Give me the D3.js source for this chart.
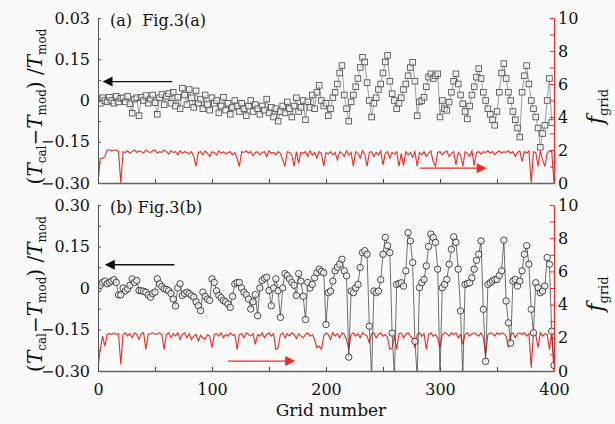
<!DOCTYPE html>
<html><head><meta charset="utf-8">
<script src="https://cdn.jsdelivr.net/npm/d3@7"></script>
<style>body{margin:0;background:#fafafa}svg{display:block}</style>
</head><body><svg id="c" width="615" height="424"></svg>
<script>
// ---- data (x = index * gridStep) ----
const gridStep = 2;
const xTicks = [0, 50, 100, 150, 200, 250, 300, 350, 400];
const xTickLabels = ["0", "", "100", "", "200", "", "300", "", "400"];
const leftTicks = [-0.3, -0.225, -0.15, -0.075, 0, 0.075, 0.15, 0.225, 0.3];
const leftLabelsA = ["−0.30", "", "−0.15", "", "0", "", "0.15", "", "0.03"];
const leftLabelsB = ["−0.30", "", "−0.15", "", "0", "", "0.15", "", "0.30"];
const rightTicks = [0,1,2,3,4,5,6,7,8,9,10];
const rightLabels = ["0","","2","","4","","6","","8","","10"];

const squaresA = [
 0.005,-0.01,0.01,0.0,-0.005,0.012,0.0,-0.01,0.015,-0.005,
 0.008,0.01,-0.005,0.015,-0.012,-0.046,0.005,0.01,-0.055,0.012,
 0.0,0.018,-0.01,0.005,0.02,-0.008,-0.05,0.01,0.022,-0.015,
 0.015,0.025,-0.01,0.03,-0.02,0.012,-0.03,0.045,0.02,-0.015,
 0.04,0.01,-0.025,0.035,-0.01,0.005,-0.03,0.02,-0.015,-0.035,
 0.01,-0.01,0.0,-0.045,-0.02,0.012,-0.035,-0.01,-0.05,-0.025,
 0.0,-0.02,-0.04,-0.01,-0.03,-0.055,-0.02,0.0,-0.04,-0.015,
 -0.03,-0.05,-0.02,-0.035,0.005,-0.045,-0.025,-0.06,-0.03,-0.075,
 -0.04,-0.02,-0.045,-0.005,-0.03,-0.06,-0.02,0.01,-0.04,-0.025,
 0.0,-0.07,-0.005,-0.025,0.02,-0.03,0.03,0.055,0.0,-0.02,
 -0.01,-0.055,-0.03,0.01,0.03,0.06,0.1,0.127,0.02,-0.03,
 -0.075,-0.005,0.02,0.05,0.08,0.12,0.157,0.14,0.065,0.0,
 -0.06,-0.01,0.01,0.04,0.06,0.1,0.14,0.164,0.07,0.025,
 0.0,-0.03,-0.01,0.01,0.04,0.06,0.09,0.12,0.139,0.07,
 -0.055,-0.005,0.0,0.012,0.05,0.085,0.097,0.08,0.09,0.097,
 -0.06,0.0,-0.03,-0.036,-0.006,0.03,0.07,0.097,0.06,0.02,
 -0.012,-0.04,-0.067,-0.02,0.02,0.05,0.085,0.116,0.08,0.03,
 0.0,-0.03,-0.05,-0.07,-0.09,-0.04,0.03,0.1,0.134,0.08,
 0.03,0.0,-0.04,-0.07,-0.1,-0.133,0.03,0.09,0.127,0.06,
 0.0,-0.03,-0.06,-0.1,-0.17,-0.12,-0.09,0.0,0.08,-0.08
];
const fgridA = [
 0,1.5,1.5,1.6,2.0,2.0,1.95,2.0,2.0,1.9,
 0,1.9,1.85,1.95,1.8,1.9,2.0,1.85,1.95,1.9,
 1.8,2.0,1.9,1.85,1.95,2.0,1.8,1.9,1.85,2.0,
 1.9,1.75,1.95,1.85,1.9,1.7,1.95,1.8,1.9,1.85,
 1.75,1.9,1.6,1.0,1.85,1.9,1.7,1.95,1.8,1.6,
 1.9,1.85,1.7,1.95,1.8,1.9,1.75,1.85,1.9,1.7,
 1.85,1.5,1.0,1.9,1.85,1.95,1.8,1.9,1.65,1.85,
 1.9,1.7,1.85,1.9,1.6,1.95,1.8,1.85,1.7,1.9,
 1.8,1.4,1.0,1.9,1.85,1.7,1.0,1.9,1.2,1.85,
 1.8,1.9,1.6,1.95,1.7,1.85,1.5,1.9,1.8,1.0,
 1.85,1.75,1.9,1.7,1.85,1.4,1.9,1.8,1.6,1.95,
 1.7,1.85,1.0,1.9,1.8,1.5,1.95,1.75,1.0,1.85,
 1.9,1.6,1.85,1.7,1.95,1.1,1.8,1.9,1.5,1.85,
 1.75,1.9,1.0,1.8,1.05,1.9,1.7,1.85,1.55,1.9,
 1.0,1.85,1.7,1.9,1.6,1.8,1.95,1.3,1.0,1.85,
 1.9,1.7,1.85,1.95,1.6,1.8,1.9,1.1,1.85,1.7,
 1.0,1.9,1.8,1.6,1.95,1.05,1.85,1.9,1.75,1.9,
 1.85,1.95,1.8,1.9,1.7,1.85,1.95,1.8,1.9,1.85,
 1.95,1.8,1.9,1.6,1.85,1.95,1.3,1.9,1.8,1.95,
 0,1.9,1.85,1.0,1.95,1.4,1.0,1.8,1.95,1.9,
 0
];
const circlesB = [
 -0.004,0.01,0.02,0.025,0.015,0.02,0.025,0.03,0.02,-0.025,
 -0.025,0.0,-0.01,-0.003,0.01,0.033,0.02,0.027,-0.009,-0.01,
 -0.012,-0.015,-0.025,-0.033,-0.02,-0.015,0.033,0.015,0.005,-0.003,
 -0.005,-0.01,-0.02,-0.04,-0.065,0.0,0.015,-0.027,-0.02,-0.015,
 -0.02,-0.027,-0.033,-0.05,-0.064,-0.082,-0.015,-0.03,-0.04,-0.045,
 0.033,0.02,-0.01,-0.027,-0.035,-0.045,-0.05,-0.058,-0.07,-0.03,
 0.015,0.02,0.02,0.0,-0.015,-0.024,-0.04,-0.076,-0.05,-0.024,
 -0.1,0.0,0.027,0.035,0.039,-0.009,-0.064,0.0,0.033,-0.01,
 -0.106,0.0,0.052,0.045,0.033,0.02,0.01,-0.027,0.052,0.025,
 -0.03,-0.114,0.02,0.0,0.013,0.037,0.055,0.068,0.06,0.055,
 -0.132,-0.017,-0.011,0.025,0.062,0.075,0.086,0.104,0.062,0.044,
 -0.25,-0.011,-0.017,0.0,0.013,0.074,0.128,0.135,0.122,-0.138,
 -0.32,-0.011,-0.017,-0.011,0.03,0.122,0.183,0.153,0.128,-0.163,
 -0.32,0.013,0.016,0.019,0.007,0.062,0.2,0.17,0.092,-0.193,
 -0.32,0.001,0.019,0.031,0.08,0.15,0.195,0.183,0.165,0.068,
 -0.32,0.001,0.013,0.031,0.086,0.14,0.185,0.165,0.068,-0.083,
 -0.32,0.013,0.016,0.019,0.037,0.068,0.1,0.122,0.17,-0.077,
 -0.265,0.013,0.019,0.025,0.031,0.031,0.045,0.062,0.173,-0.047,
 -0.126,-0.199,0.025,0.031,0.007,0.025,0.062,0.122,0.153,0.086,
 -0.077,-0.162,0.019,0.001,-0.017,-0.011,0.007,0.11,0.086,-0.156,
 -0.28
];
const fgridB = [
 0.2,1.3,2.1,1.5,2.2,2.25,2.2,2.3,2.2,2.25,
 0.4,2.2,2.3,2.1,2.25,2.0,2.3,2.2,1.9,2.25,
 2.3,1.3,2.2,2.25,2.3,2.2,2.25,2.3,2.2,1.3,
 2.2,2.3,2.0,2.25,2.1,2.3,1.9,2.2,2.3,2.0,
 2.25,1.9,2.1,2.2,1.8,2.15,2.0,1.9,2.2,2.1,
 1.4,2.2,2.25,2.1,2.3,2.0,2.2,2.1,2.3,2.15,
 2.2,1.3,2.2,2.25,2.0,2.3,2.2,2.1,2.25,1.6,
 2.2,2.1,2.3,2.0,2.2,2.3,2.1,2.25,1.3,1.4,
 2.2,2.3,2.0,2.25,2.1,2.3,2.2,1.95,2.25,2.1,
 2.0,2.2,2.3,2.1,2.2,1.9,1.4,1.5,1.3,2.1,
 2.3,2.2,1.9,2.3,2.1,2.25,2.0,2.3,2.2,1.9,
 1.3,2.2,2.3,2.1,2.25,2.0,2.3,2.2,2.1,1.7,
 2.25,2.3,2.0,2.2,2.3,2.1,2.2,2.0,1.3,1.4,
 2.1,1.3,2.25,2.3,2.0,2.2,2.3,2.1,1.95,1.4,
 2.2,2.3,2.1,2.25,1.3,2.2,2.3,2.1,2.2,2.0,
 1.4,2.2,2.3,2.25,2.1,2.3,2.2,2.3,2.0,2.2,
 1.6,2.2,2.3,2.1,2.25,2.3,2.2,2.1,2.3,2.0,
 1.0,2.2,2.3,2.25,2.1,2.3,2.2,2.3,2.25,2.1,
 1.4,2.2,2.3,2.0,2.25,2.3,2.2,2.3,2.1,2.25,
 0.2,2.3,2.2,1.4,2.3,2.1,2.25,2.2,1.3,2.3,
 0
];

// ---- drawing ----
const svg = d3.select("#c");
svg.append("rect").attr("width",615).attr("height",424).attr("fill","#fafafa");
const FONT = "'DejaVu Serif', 'Liberation Serif', serif";
const RED = "#ee2b24";
const x = d3.scaleLinear().domain([0,400]).range([98,554]);

const panels = [
  {id:"a", top:18, bot:183, vals:squaresA, fg:fgridA, labels:leftLabelsA, marker:"square",
   title:"(a)  Fig.3(a)", xLabels:false, black:[65,4,0.069], red:[282,341,0.9]},
  {id:"b", top:205, bot:371, vals:circlesB, fg:fgridB, labels:leftLabelsB, marker:"circle",
   title:"(b) Fig.3(b)", xLabels:true, black:[67,6,0.084], red:[114,173,0.6]}
];

const defs = svg.append("defs");

panels.forEach(p => {
  const yL = d3.scaleLinear().domain([-0.3,0.3]).range([p.bot,p.top]);
  const yR = d3.scaleLinear().domain([0,10]).range([p.bot,p.top]);
  const g = svg.append("g");
  defs.append("clipPath").attr("id","clip"+p.id).append("rect")
    .attr("x",98).attr("y",p.top-6).attr("width",456).attr("height",p.bot-p.top+6);
  const plot = g.append("g").attr("clip-path","url(#clip"+p.id+")");

  // red f_grid line
  plot.append("path").datum(p.fg)
    .attr("d", d3.line().x((d,i)=>x(i*gridStep)).y(d=>yR(d)))
    .attr("fill","none").attr("stroke",RED).attr("stroke-width",1.1);

  // connecting line
  plot.append("path").datum(p.vals)
    .attr("d", d3.line().x((d,i)=>x(i*gridStep)).y(d=>yL(d)))
    .attr("fill","none").attr("stroke", p.marker==="square" ? "#777" : "#333").attr("stroke-width",0.7);

  // markers
  if (p.marker === "square") {
    plot.selectAll("rect.m").data(p.vals).join("rect").attr("class","m")
      .attr("x",(d,i)=>x(i*gridStep)-2.8).attr("y",d=>yL(d)-2.8)
      .attr("width",5.6).attr("height",5.6)
      .attr("fill","#fafafa").attr("fill-opacity",0.6).attr("stroke","#555").attr("stroke-width",0.9);
  } else {
    plot.selectAll("circle.m").data(p.vals).join("circle").attr("class","m")
      .attr("cx",(d,i)=>x(i*gridStep)).attr("cy",d=>yL(d)).attr("r",3.2)
      .attr("fill","#fafafa").attr("fill-opacity",0.7).attr("stroke","#333").attr("stroke-width",0.9);
  }

  // left axis
  const la = g.append("g").attr("transform","translate(98,0)")
    .call(d3.axisLeft(yL).tickValues(leftTicks).tickSizeInner(-3).tickSizeOuter(0).tickPadding(8)
      .tickFormat((d,i)=>p.labels[i]));
  la.select(".domain").attr("stroke","#555");
  la.selectAll(".tick line").attr("stroke","#555");
  la.selectAll("text").attr("font-family",FONT).attr("font-size",16).attr("fill","#111");

  // bottom axis
  const ba = g.append("g").attr("transform",`translate(0,${p.bot})`)
    .call(d3.axisBottom(x).tickValues(xTicks).tickSizeInner(-4).tickSizeOuter(0).tickPadding(13)
      .tickFormat((d,i)=> p.xLabels ? xTickLabels[i] : ""));
  ba.select(".domain").attr("stroke","#666").attr("stroke-width",1.5);
  ba.selectAll(".tick line").attr("stroke","#444");
  ba.selectAll("text").attr("font-family",FONT).attr("font-size",16).attr("fill","#111");

  // right axis
  const ra = g.append("g").attr("transform","translate(554,0)")
    .call(d3.axisRight(yR).tickValues(rightTicks).tickSizeInner(-4).tickSizeOuter(0).tickPadding(4)
      .tickFormat((d,i)=>rightLabels[i]));
  ra.select(".domain").attr("stroke",RED).attr("stroke-width",1.2);
  ra.selectAll(".tick line").attr("stroke",RED);
  ra.selectAll("text").attr("font-family",FONT).attr("font-size",16).attr("fill","#111");

  // panel title
  g.append("text").attr("x",110).attr("y",p.top+2).attr("dy","0.35em")
    .attr("font-family",FONT).attr("font-size",16).attr("fill","#111").attr("xml:space","preserve")
    .text(p.title);

  // black arrow (left)
  const by = yL(p.black[2]);
  g.append("line").attr("x1",x(p.black[0])).attr("x2",x(p.black[1])+8).attr("y1",by).attr("y2",by)
    .attr("stroke","#111").attr("stroke-width",1.3);
  const bx = x(p.black[1]);
  g.append("path").attr("d",`M${bx},${by} L${bx+10},${by-5} L${bx+10},${by+5} Z`).attr("fill","#111");

  // red arrow (right)
  const ry = yR(p.red[2]);
  const rx2 = x(p.red[1]);
  g.append("line").attr("x1",x(p.red[0])).attr("x2",rx2-8).attr("y1",ry).attr("y2",ry)
    .attr("stroke",RED).attr("stroke-width",1.3);
  g.append("path").attr("d",`M${rx2},${ry} L${rx2-10},${ry-5} L${rx2-10},${ry+5} Z`).attr("fill",RED);

  // left y title
  const cy = (p.top+p.bot)/2 + 6;
  const t = g.append("text").attr("transform",`translate(42,${cy}) rotate(-90)`)
    .attr("text-anchor","middle").attr("font-family",FONT).attr("font-size",20).attr("fill","#111");
  t.append("tspan").text("(");
  t.append("tspan").attr("font-style","italic").text("T");
  t.append("tspan").attr("font-size",12).attr("dy",4).text("cal");
  t.append("tspan").attr("dy",-4).text("−");
  t.append("tspan").attr("font-style","italic").text("T");
  t.append("tspan").attr("font-size",12).attr("dy",4).text("mod");
  t.append("tspan").attr("dy",-4).text(") /");
  t.append("tspan").attr("font-style","italic").text("T");
  t.append("tspan").attr("font-size",12).attr("dy",4).text("mod");

  // right y title
  const rt = g.append("text").attr("transform",`translate(603,${(p.top+p.bot)/2 + 6}) rotate(-90)`)
    .attr("text-anchor","middle").attr("font-family",FONT).attr("font-size",22).attr("fill","#111");
  rt.append("tspan").attr("font-style","italic").text("f");
  rt.append("tspan").attr("font-size",13).attr("dy",5).text("grid");
});

svg.append("text").attr("x",331).attr("y",410).attr("dy","0.35em").attr("text-anchor","middle")
  .attr("font-family",FONT).attr("font-size",17).attr("fill","#111").text("Grid number");
</script></body></html>
